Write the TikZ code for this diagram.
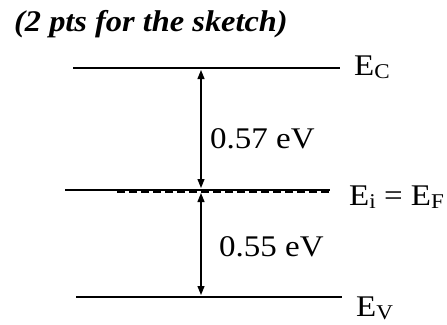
\documentclass[tikz,border=0pt]{standalone}
\usepackage{fontspec}
\setmainfont{Liberation Serif}
\usetikzlibrary{arrows.meta}
\newcommand{\wide}[1]{\scalebox{1.1}[1]{#1}}
\newcommand{\lsub}[1]{\raisebox{-3pt}{\fontsize{21}{24}\selectfont #1}}
\begin{document}
\begin{tikzpicture}[x=1pt,y=-1pt,
  level/.style={line width=1.4pt},
  gap/.style={line width=1.2pt,-{Triangle[length=9pt,width=7pt]}},
  lab/.style={inner sep=0pt,anchor=base west,font=\fontsize{30}{35}\selectfont}]
\useasboundingbox (0,0) rectangle (447,324);
\node[inner sep=0pt,anchor=base west,font=\fontsize{30}{35}\selectfont\bfseries\itshape] (title) at (14,31) {\scalebox{1.08}[1]{(2 pts for the sketch)}};
% levels
\coordinate (cL) at (73,68);  \coordinate (cR) at (340,68);
\coordinate (iL) at (65,190); \coordinate (iR) at (330,190);
\coordinate (vL) at (76,297); \coordinate (vR) at (342,297);
\coordinate (dL) at (117,191.5); \coordinate (dR) at (330,191.5);
\draw[level] (cL) -- (cR);
\draw[level] (iL) -- (iR);
\draw[line width=2.2pt,dash pattern=on 8pt off 4pt] (dL) -- (dR);
\draw[level] (vL) -- (vR);
% arrows
\coordinate (a1) at (201,70); \coordinate (a2) at (201,188);
\coordinate (b1) at (201,193); \coordinate (b2) at (201,295);
\coordinate (am) at (201,129);
\draw[gap] (am) -- (a1);
\draw[gap] (am) -- (a2);
\coordinate (bm) at (201,244);
\draw[gap] (bm) -- (b1);
\draw[gap] (bm) -- (b2);
% labels
\node[lab] (ec) at (354,75) {\wide{E\lsub{C}}};
\node[lab] (ei) at (349,205) {\wide{E\lsub{i} = E\lsub{F}}};
\node[lab] (ev) at (356,316) {\wide{E\lsub{V}}};
\node[lab] (g1) at (210,148) {\wide{0.57 eV}};
\node[lab] (g2) at (219,256) {\wide{0.55 eV}};
\end{tikzpicture}
\end{document}
